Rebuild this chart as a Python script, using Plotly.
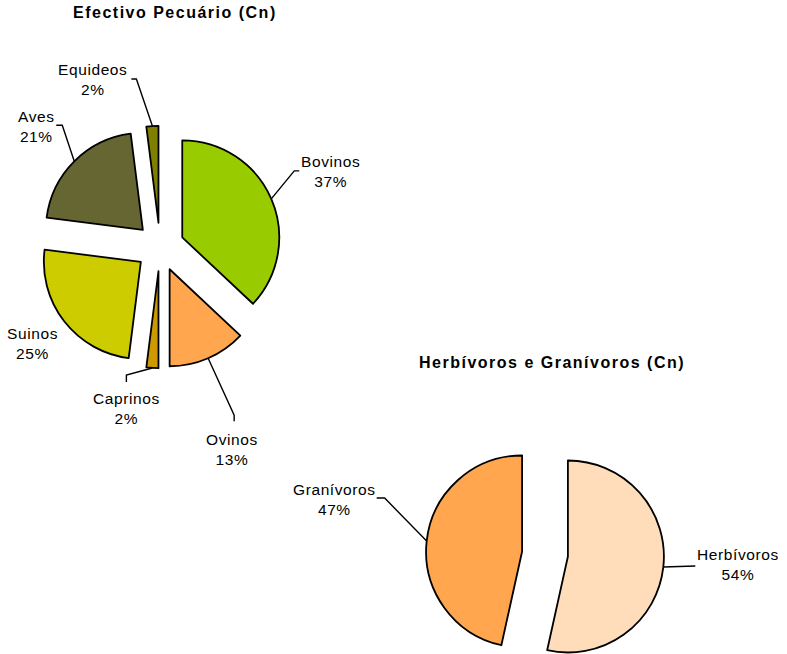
import math
import plotly.graph_objects as go

# ---------------- data ----------------
title1 = "Efectivo Pecuário (Cn)"
labels1 = ["Bovinos", "Ovinos", "Caprinos", "Suinos", "Aves", "Equideos"]
values1 = [37, 13, 2, 25, 21, 2]

title2 = "Herbívoros e Granívoros (Cn)"
labels2 = ["Herbívoros", "Granívoros"]
values2 = [54, 47]

# ---------------- styling ----------------
colors1 = ["#99CC00", "#FFA64F", "#CC9900", "#CCCC00", "#666633", "#808000"]
colors2 = ["#FFDDBB", "#FFA64F"]

W, H = 787, 654
FONT = "Liberation Sans, Arial, sans-serif"
LBL_SIZE = 15.5
LBL_SPACING = "0.6px"
TTL_SIZE = 16
TTL_SPACING = "1.5px"
EDGE_W = 1.8
LEADER_W = 1.4

# pie geometry (pixel layout)
P1 = dict(cx=160, cy=247, r=97, pull=0.25)
P2 = dict(cx=545, cy=554, r=96, pull=0.24)

# label centre offsets from the slice edge (pixels, screen coords)
OFF1 = [(59, -27), (24, 91), (-26, 40), (-32, 22), (-38, -35), (-60, -46)]
# leader line: elbow point offset from slice edge, then short tick
ELB1 = [(23, -28), (26, 57), (-26, 7), None, (-12, -36), (-16, -47)]
TICK1 = [(5, 0), (0, 6), (0, 7), None, (-6, 0), (-5, 0)]
OFF2 = [(75, -2), (-92, -42)]
ELB2 = [(32, -1), (-42, -43)]
TICK2 = [(0, 0), (-8, 0)]


def fx(px):
    return px / W


def fy(py):
    return 1 - py / H


def mid_angles(vals):
    tot = float(sum(vals))
    acc = 0.0
    out = []
    for v in vals:
        out.append((acc + v / 2.0) / tot * 2 * math.pi)
        acc += v
    return out


def sp(txt, spacing):
    return '<span style="letter-spacing:%s">%s</span>' % (spacing, txt)


def label_text(lbl, val):
    return sp(lbl, LBL_SPACING) + "<br>" + sp("%d%%" % val, LBL_SPACING)


fig = go.Figure()

# ---- pie 1 (all slices exploded via pull) ----
ext1 = P1["r"] * (1 + P1["pull"])
fig.add_trace(go.Pie(
    labels=labels1, values=values1, sort=False, direction="clockwise",
    rotation=0, pull=P1["pull"], textinfo="none", hoverinfo="label+percent",
    marker=dict(colors=colors1, line=dict(color="black", width=EDGE_W)),
    domain=dict(x=[fx(P1["cx"] - ext1), fx(P1["cx"] + ext1)],
                y=[fy(P1["cy"] + ext1), fy(P1["cy"] - ext1)]),
    showlegend=False,
))

# ---- pie 2 (each slice drawn as its own offset trace, i.e. exploded) ----
ang2 = mid_angles(values2)
for i, a in enumerate(ang2):
    dx = P2["pull"] * P2["r"] * math.sin(a)
    dy = -P2["pull"] * P2["r"] * math.cos(a)
    cx, cy, r = P2["cx"] + dx, P2["cy"] + dy, P2["r"]
    cols = [colors2[j] if j == i else "rgba(0,0,0,0)" for j in range(len(values2))]
    lw = [EDGE_W if j == i else 0 for j in range(len(values2))]
    fig.add_trace(go.Pie(
        labels=labels2, values=values2, sort=False, direction="clockwise",
        rotation=0, textinfo="none", hoverinfo="label+percent",
        marker=dict(colors=cols, line=dict(color="black", width=lw)),
        domain=dict(x=[max(0.0, fx(cx - r)), min(1.0, fx(cx + r))],
                    y=[max(0.0, fy(cy + r)), min(1.0, fy(cy - r))]),
        showlegend=False,
    ))

annotations = []
shapes = []


def add_labels(P, labels, values, offs, elbs, ticks):
    ang = mid_angles(values)
    d = P["r"] * (1 + P["pull"])
    for lbl, val, a, (ox, oy), e, t in zip(labels, values, ang, offs, elbs, ticks):
        px = P["cx"] + d * math.sin(a)
        py = P["cy"] - d * math.cos(a)
        annotations.append(dict(
            x=fx(px + ox), y=fy(py + oy), xref="paper", yref="paper",
            text=label_text(lbl, val), showarrow=False, align="center",
            xanchor="center", yanchor="middle",
            font=dict(family=FONT, size=LBL_SIZE, color="black"),
        ))
        if e is not None:
            ex, ey = px + e[0], py + e[1]
            tx, ty = ex + t[0], ey + t[1]
            path = "M %.5f,%.5f L %.5f,%.5f L %.5f,%.5f" % (
                fx(px), fy(py), fx(ex), fy(ey), fx(tx), fy(ty))
            shapes.append(dict(type="path", path=path, xref="paper", yref="paper",
                               line=dict(color="black", width=LEADER_W)))


add_labels(P1, labels1, values1, OFF1, ELB1, TICK1)
add_labels(P2, labels2, values2, OFF2, ELB2, TICK2)

# titles
annotations.append(dict(x=fx(174.5), y=fy(13), xref="paper", yref="paper",
                        text="<b>" + sp(title1, TTL_SPACING) + "</b>", showarrow=False,
                        xanchor="center", yanchor="middle",
                        font=dict(family=FONT, size=TTL_SIZE, color="black")))
annotations.append(dict(x=fx(551.5), y=fy(362), xref="paper", yref="paper",
                        text="<b>" + sp(title2, TTL_SPACING) + "</b>", showarrow=False,
                        xanchor="center", yanchor="middle",
                        font=dict(family=FONT, size=TTL_SIZE, color="black")))

fig.update_layout(
    width=W, height=H,
    margin=dict(l=0, r=0, t=0, b=0),
    paper_bgcolor="white", plot_bgcolor="white",
    annotations=annotations,
    shapes=shapes,
    font=dict(family=FONT),
)

fig.write_html("out.html",
               config={"displayModeBar": False},
               post_script="document.body.style.margin='0px';")
